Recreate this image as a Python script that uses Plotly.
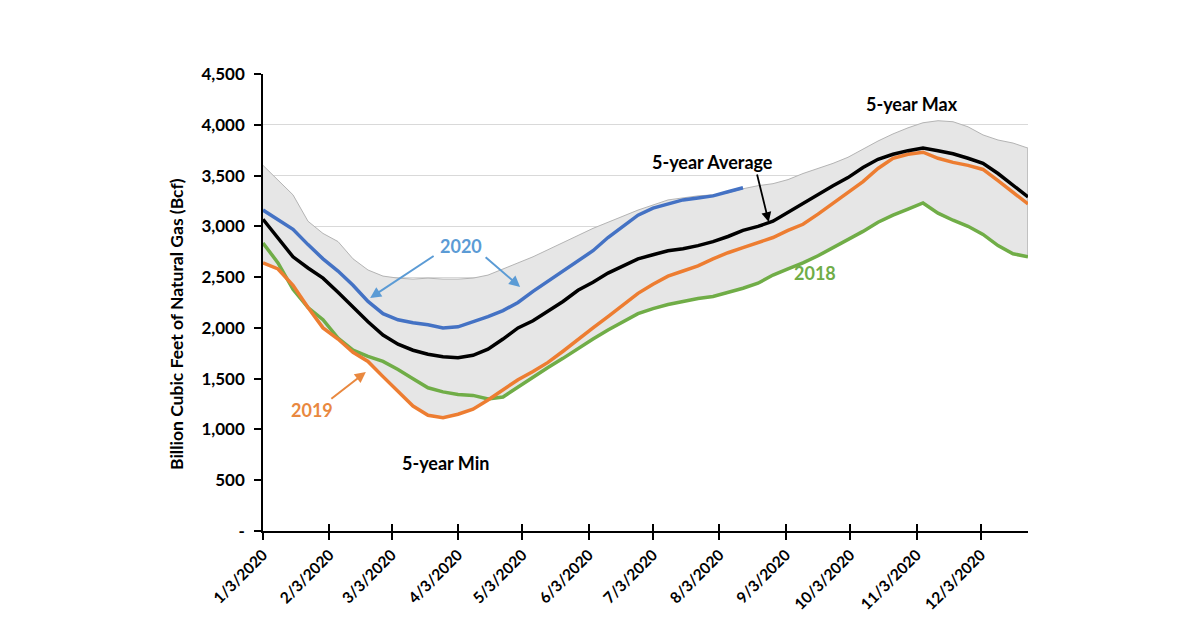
import pandas as pd
import plotly.graph_objects as go

# Weekly dates (Fridays) from Jan 3 2020 to Dec 25 2020
weeks = pd.date_range("2020-01-03", "2020-12-25", freq="7D")
dates = [d.strftime("%Y-%m-%d") for d in weeks]

five_year_max = [3600, 3460, 3310, 3050, 2930, 2850, 2680, 2570, 2510, 2490,
                 2480, 2490, 2480, 2480, 2490, 2520, 2580, 2640, 2700, 2770,
                 2840, 2910, 2980, 3040, 3100, 3160, 3210, 3260, 3280, 3300,
                 3310, 3330, 3370, 3400, 3420, 3460, 3520, 3570, 3620, 3680,
                 3760, 3840, 3910, 3970, 4020, 4040, 4030, 3980, 3900, 3850,
                 3820, 3770]

five_year_min = [2640, 2580, 2380, 2200, 2000, 1890, 1760, 1670, 1520, 1380,
                 1230, 1140, 1115, 1150, 1200, 1290, 1320, 1420, 1510, 1610,
                 1700, 1800, 1890, 1980, 2060, 2140, 2190, 2230, 2260, 2290,
                 2310, 2350, 2390, 2440, 2520, 2580, 2640, 2710, 2790, 2870,
                 2950, 3040, 3110, 3170, 3230, 3130, 3060, 3000, 2920, 2810,
                 2730, 2700]

five_year_avg = [3070, 2890, 2700, 2590, 2490, 2350, 2200, 2060, 1930, 1840,
                 1780, 1740, 1715, 1705, 1730, 1790, 1890, 2000, 2070, 2160,
                 2260, 2370, 2450, 2540, 2610, 2680, 2720, 2760, 2780, 2810,
                 2850, 2900, 2960, 3000, 3050, 3140, 3230, 3310, 3400, 3480,
                 3580, 3660, 3710, 3745, 3770, 3745, 3715, 3670, 3620, 3520,
                 3400, 3290]

y2020 = [3160, 3060, 2970, 2820, 2680, 2560, 2420, 2260, 2140, 2080,
         2050, 2030, 2000, 2010, 2060, 2110, 2170, 2250, 2360, 2460,
         2560, 2660, 2760, 2890, 3000, 3110, 3180, 3220, 3260, 3280,
         3300, 3340, 3380]

y2019 = [2640, 2580, 2420, 2200, 2000, 1890, 1760, 1670, 1520, 1380,
         1230, 1140, 1115, 1150, 1200, 1290, 1390, 1490, 1570, 1660,
         1770, 1890, 2000, 2110, 2230, 2340, 2430, 2510, 2560, 2610,
         2680, 2740, 2790, 2840, 2890, 2960, 3020, 3120, 3230, 3330,
         3440, 3570, 3670, 3710, 3730, 3670, 3630, 3600, 3560, 3450,
         3340, 3220]

y2018 = [2836, 2640, 2380, 2200, 2080, 1900, 1780, 1720, 1670, 1590,
         1500, 1410, 1370, 1345, 1335, 1300, 1320, 1420, 1510, 1610,
         1700, 1800, 1890, 1980, 2060, 2140, 2190, 2230, 2260, 2290,
         2310, 2350, 2390, 2440, 2520, 2580, 2640, 2710, 2790, 2870,
         2950, 3040, 3110, 3170, 3230, 3130, 3060, 3000, 2920, 2810,
         2730, 2700]

tick_dates = ["2020-01-03", "2020-02-03", "2020-03-03", "2020-04-03",
              "2020-05-03", "2020-06-03", "2020-07-03", "2020-08-03",
              "2020-09-03", "2020-10-03", "2020-11-03", "2020-12-03"]
tick_labels = ["1/3/2020", "2/3/2020", "3/3/2020", "4/3/2020", "5/3/2020",
               "6/3/2020", "7/3/2020", "8/3/2020", "9/3/2020", "10/3/2020",
               "11/3/2020", "12/3/2020"]

y_ticks = [0, 500, 1000, 1500, 2000, 2500, 3000, 3500, 4000, 4500]
y_tick_labels = ["-", "500", "1,000", "1,500", "2,000", "2,500", "3,000",
                 "3,500", "4,000", "4,500"]

FONT = "Lato"
BAND = "#e6e6e6"
BAND_EDGE = "#b4b4b4"

fig = go.Figure()

# 5-year max area (gray) down to zero
fig.add_trace(go.Scatter(x=dates, y=five_year_max, mode="lines",
                         line=dict(color=BAND_EDGE, width=1),
                         fill="tozeroy", fillcolor=BAND,
                         hoverinfo="skip", showlegend=False))
# right-edge outline of the max area
fig.add_trace(go.Scatter(x=[dates[-1], dates[-1]], y=[0, five_year_max[-1]],
                         mode="lines", line=dict(color=BAND_EDGE, width=1.5),
                         hoverinfo="skip", showlegend=False))
# 5-year min area (white) covering below
fig.add_trace(go.Scatter(x=dates, y=five_year_min, mode="lines",
                         line=dict(color="white", width=0),
                         fill="tozeroy", fillcolor="white",
                         hoverinfo="skip", showlegend=False))

fig.add_trace(go.Scatter(x=dates, y=y2018, mode="lines", name="2018",
                         line=dict(color="#70AD47", width=3.5), showlegend=False))
fig.add_trace(go.Scatter(x=dates, y=y2019, mode="lines", name="2019",
                         line=dict(color="#ED7D31", width=3.5), showlegend=False))
fig.add_trace(go.Scatter(x=dates, y=five_year_avg, mode="lines", name="5-year Average",
                         line=dict(color="black", width=3.5), showlegend=False))
fig.add_trace(go.Scatter(x=dates[:len(y2020)], y=y2020, mode="lines", name="2020",
                         line=dict(color="#4472C4", width=3.5), showlegend=False))
# invisible trace attached to the overlay axis (provides the upper half of cross ticks)
fig.add_trace(go.Scatter(x=[dates[0], dates[-1]], y=[None, None], xaxis="x2",
                         mode="lines", hoverinfo="skip", showlegend=False))

def label(text, x, y, color="black", size=18):
    fig.add_annotation(text=f"<b>{text}</b>", x=x, y=y, xref="paper", yref="paper",
                       showarrow=False, font=dict(family=FONT, size=size, color=color),
                       xanchor="center", yanchor="middle")

label("5-year Max", 0.848, 0.934)
label("5-year Average", 0.587, 0.807)
label("2020", 0.259, 0.624, "#5B9BD5")
label("2019", 0.064, 0.265, "#E9883F")
label("2018", 0.722, 0.565, "#70AD47")
label("5-year Min", 0.239, 0.149)

# y-axis title
fig.add_annotation(text="<b>Billion Cubic Feet of Natural Gas (Bcf)</b>",
                   x=-0.113, y=0.452, xref="paper", yref="paper", textangle=-90,
                   showarrow=False, font=dict(family=FONT, size=17.5, color="black"),
                   xanchor="center", yanchor="middle")

def arrow(x, y, ax, ay, color, width=2):
    fig.add_annotation(x=x, y=y, xref="x", yref="y", ax=ax, ay=ay,
                       axref="pixel", ayref="pixel", text="", showarrow=True,
                       arrowhead=2, arrowsize=1.1, arrowwidth=width, arrowcolor=color)

arrow("2020-02-22", 2294, 65, -43, "#5B9BD5")
arrow("2020-05-02", 2403, -36, -31, "#5B9BD5")
arrow("2020-02-20", 1566, -36, 28, "#E9883F")
arrow("2020-08-26", 3043, -12, -49, "black", 1.8)

fig.update_layout(
    width=1200, height=630,
    margin=dict(l=263, r=172, t=74, b=99),
    paper_bgcolor="white", plot_bgcolor="white",
    font=dict(family=FONT, color="black"),
    xaxis2=dict(overlaying="x", side="bottom", type="date",
                range=[dates[0], dates[-1]], tickvals=tick_dates,
                showticklabels=False, showgrid=False, showline=False,
                zeroline=False, ticks="inside", ticklen=7,
                tickcolor="black", tickwidth=1.5),
)
fig.update_xaxes(
    selector=dict(anchor="y"),
    range=[dates[0], dates[-1]], type="date",
    tickvals=tick_dates, ticktext=tick_labels, tickangle=-45,
    tickfont=dict(family=FONT, size=15.5, color="black", weight="bold"),
    showgrid=False, showline=True, linecolor="black", linewidth=1.5,
    ticks="outside", ticklen=7, tickcolor="black", tickwidth=1.5, zeroline=False,
)
fig.update_layout(xaxis=dict(
    range=[dates[0], dates[-1]], type="date",
    tickvals=tick_dates, ticktext=tick_labels, tickangle=-45,
    tickfont=dict(family=FONT, size=15.5, color="black", weight="bold"),
    showgrid=False, showline=True, linecolor="black", linewidth=1.5,
    ticks="outside", ticklen=7, tickcolor="black", tickwidth=1.5, zeroline=False,
))
fig.update_yaxes(
    range=[0, 4500],
    tickvals=y_ticks, ticktext=y_tick_labels,
    tickfont=dict(family=FONT, size=17, color="black", weight="bold"),
    ticklabelstandoff=6,
    showgrid=True, gridcolor="#d9d9d9", gridwidth=1,
    showline=True, linecolor="black", linewidth=1.5,
    ticks="outside", ticklen=7, tickcolor="black", tickwidth=1.5, zeroline=False,
)

fig.write_html("out.html")
